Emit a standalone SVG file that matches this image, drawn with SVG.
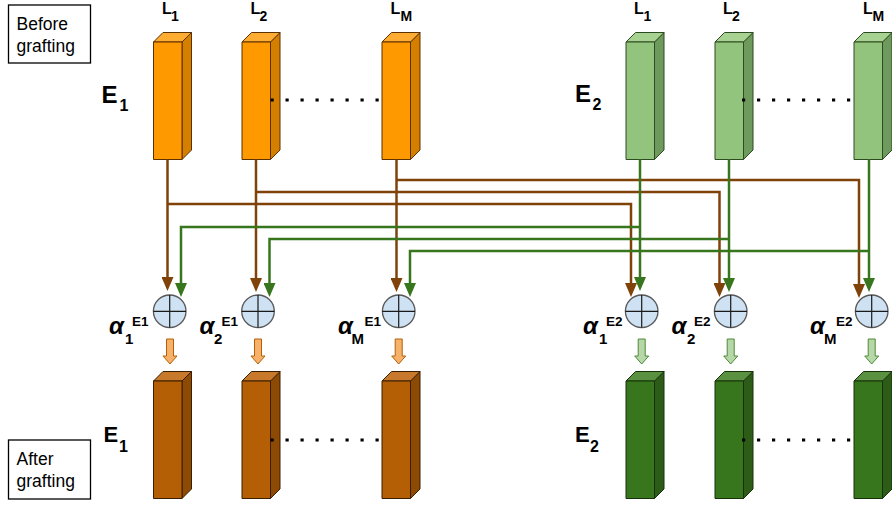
<svg xmlns="http://www.w3.org/2000/svg" width="892" height="505" viewBox="0 0 892 505">
<style>
  text { font-family: "Liberation Sans", Arial, sans-serif; fill: #000; }
  .cap { font-size: 17.5px; }
  .b { font-weight: bold; }
  .ital { font-weight: bold; font-style: italic; }
  .frame { fill: #fff; stroke: #000; stroke-width: 1.3; }
  .bf { fill: var(--f); stroke: var(--k); stroke-width: 1; stroke-linejoin: round; }
  .bt { fill: var(--t); stroke: var(--k); stroke-width: 1; stroke-linejoin: round; }
  .bs { fill: var(--s); stroke: var(--k); stroke-width: 1; stroke-linejoin: round; }
  .orange-in  { --f: #FF9900; --t: #FFAC33; --s: #D47F00; --k: #5C3100; }
  .green-in   { --f: #93C47D; --t: #A8D292; --s: #6F9A5D; --k: #2E4A20; }
  .orange-out { --f: #B45F06; --t: #C8792C; --s: #8C4A05; --k: #3A1F00; }
  .green-out  { --f: #38761D; --t: #5A9140; --s: #2C5C17; --k: #17310B; }
  .wire { fill: none; stroke-width: 2.5; }
  .brown { stroke: #7F4208; }
  .green { stroke: #38761D; }
  .disc { fill: #CFE2F3; stroke: #595959; stroke-width: 1.3; }
  .plus { stroke: #1a1a1a; stroke-width: 1.2; fill: none; }
  .dots { stroke: #000; stroke-width: 3.2; stroke-dasharray: 3.2 11.8; }
  .push-o { fill: #F6B26B; stroke: #B45F06; stroke-width: 1; }
  .push-g { fill: #B6D7A8; stroke: #4E8A35; stroke-width: 1; }
</style>
<defs>
  <marker id="ah-brown" markerUnits="userSpaceOnUse" markerWidth="14" markerHeight="12" refX="10" refY="6" orient="auto">
    <path d="M0,0 L14,6 L0,12 Z" fill="#7F4208"/>
  </marker>
  <marker id="ah-green" markerUnits="userSpaceOnUse" markerWidth="14" markerHeight="12" refX="10" refY="6" orient="auto">
    <path d="M0,0 L14,6 L0,12 Z" fill="#38761D"/>
  </marker>
  <!-- layer block: front face at origin, depth 9.5 up-right -->
  <g id="box">
    <path class="bs" d="M28.5,0 L38,-9.5 V108 L28.5,117.5 Z"/>
    <path class="bt" d="M0,0 L9.5,-9.5 H38 L28.5,0 Z"/>
    <path class="bf" d="M0,0 H28.5 V117.5 H0 Z"/>
  </g>
  <!-- summation node: disc with a plus -->
  <g id="cross">
    <circle class="disc" cx="0" cy="0" r="16.3"/>
    <path class="plus" d="M-16.3,0 H16.3 M0,-16.3 V16.3"/>
  </g>
</defs>

<!-- captions -->
<g id="caption-before">
  <rect class="frame" x="8.5" y="5" width="82" height="58"/>
  <text class="cap" x="16.5" y="30">Before</text>
  <text class="cap" x="16.5" y="52">grafting</text>
</g>
<g id="caption-after">
  <rect class="frame" x="8.5" y="440" width="82" height="59"/>
  <text class="cap" x="16.5" y="465">After</text>
  <text class="cap" x="16.5" y="486.5">grafting</text>
</g>

<!-- model names -->
<g id="name-e1-top"><text class="b" x="101.5" y="103" font-size="24">E</text><text class="b" x="119.5" y="111" font-size="16">1</text></g>
<g id="name-e2-top"><text class="b" x="575" y="102" font-size="24">E</text><text class="b" x="592.5" y="110" font-size="16">2</text></g>
<g id="name-e1-bottom"><text class="b" x="103.5" y="442" font-size="22">E</text><text class="b" x="119" y="452" font-size="16">1</text></g>
<g id="name-e2-bottom"><text class="b" x="575" y="442" font-size="22">E</text><text class="b" x="590" y="452" font-size="16">2</text></g>

<!-- layer labels -->
<g id="layer-labels" class="b">
  <text x="162" y="13.5" font-size="16">L</text><text x="171" y="21" font-size="14">1</text>
  <text x="250.5" y="13.5" font-size="16">L</text><text x="259.5" y="21" font-size="14">2</text>
  <text x="390.5" y="13.5" font-size="16">L</text><text x="400.5" y="21" font-size="14">M</text>
  <text x="634" y="13.5" font-size="16">L</text><text x="643.5" y="21" font-size="14">1</text>
  <text x="723" y="13.5" font-size="16">L</text><text x="732" y="21" font-size="14">2</text>
  <text x="863" y="13.5" font-size="16">L</text><text x="872.5" y="21" font-size="14">M</text>
</g>

<!-- layers before grafting -->
<g id="e1-l1" class="orange-in" transform="translate(153.5,42)"><use href="#box"/></g>
<g id="e1-l2" class="orange-in" transform="translate(242,42)"><use href="#box"/></g>
<g id="e1-lm" class="orange-in" transform="translate(382,42)"><use href="#box"/></g>
<g id="e2-l1" class="green-in" transform="translate(626,42)"><use href="#box"/></g>
<g id="e2-l2" class="green-in" transform="translate(715,42)"><use href="#box"/></g>
<g id="e2-lm" class="green-in" transform="translate(854,42)"><use href="#box"/></g>

<!-- layers after grafting -->
<g id="e1-l1-out" class="orange-out" transform="translate(153.5,381)"><use href="#box"/></g>
<g id="e1-l2-out" class="orange-out" transform="translate(242,381)"><use href="#box"/></g>
<g id="e1-lm-out" class="orange-out" transform="translate(382,381)"><use href="#box"/></g>
<g id="e2-l1-out" class="green-out" transform="translate(626,381)"><use href="#box"/></g>
<g id="e2-l2-out" class="green-out" transform="translate(715,381)"><use href="#box"/></g>
<g id="e2-lm-out" class="green-out" transform="translate(854,381)"><use href="#box"/></g>

<!-- ellipsis between layers -->
<g id="ellipses">
  <line class="dots" x1="270.5" y1="100" x2="380" y2="100"/>
  <line class="dots" x1="742" y1="100" x2="852" y2="100"/>
  <line class="dots" x1="270.5" y1="440" x2="380" y2="440"/>
  <line class="dots" x1="742" y1="440" x2="852" y2="440"/>
</g>

<!-- connectors -->
<g id="connectors">
  <path class="wire brown" d="M167.5,159.5 V287" marker-end="url(#ah-brown)"/>
  <path class="wire brown" d="M256,159.5 V288" marker-end="url(#ah-brown)"/>
  <path class="wire brown" d="M396.5,159.5 V288" marker-end="url(#ah-brown)"/>
  <path class="wire brown" d="M167.5,204 H631 V293" marker-end="url(#ah-brown)"/>
  <path class="wire brown" d="M256,192 H719.5 V293" marker-end="url(#ah-brown)"/>
  <path class="wire brown" d="M396.5,180 H859 V294" marker-end="url(#ah-brown)"/>
  <path class="wire green" d="M640,159.5 V287" marker-end="url(#ah-green)"/>
  <path class="wire green" d="M729,159.5 V288" marker-end="url(#ah-green)"/>
  <path class="wire green" d="M869,159.5 V288" marker-end="url(#ah-green)"/>
  <path class="wire green" d="M640,227 H181 V293" marker-end="url(#ah-green)"/>
  <path class="wire green" d="M729,239 H269.5 V293" marker-end="url(#ah-green)"/>
  <path class="wire green" d="M869,251 H410 V293" marker-end="url(#ah-green)"/>
  <!-- hand-off arrows from sum to grafted layer -->
  <path class="push-o" d="M166.5,339 H173.5 V356 H177 L170,364 L163,356 H166.5 Z"/>
  <path class="push-o" d="M254.5,339 H261.5 V356 H265 L258,364 L251,356 H254.5 Z"/>
  <path class="push-o" d="M395.2,339 H402.2 V356 H405.7 L398.7,364 L391.7,356 H395.2 Z"/>
  <path class="push-g" d="M638.2,339 H645.2 V356 H648.7 L641.7,364 L634.7,356 H638.2 Z"/>
  <path class="push-g" d="M727.2,339 H734.2 V356 H737.7 L730.7,364 L723.7,356 H727.2 Z"/>
  <path class="push-g" d="M868.2,339 H875.2 V356 H878.7 L871.7,364 L864.7,356 H868.2 Z"/>
</g>

<!-- weighted sums -->
<g id="sum-e1-1">
  <use href="#cross" x="169.7" y="311.3"/>
  <text class="ital" x="109" y="334" font-size="24">α</text>
  <text class="b" x="125" y="344" font-size="15">1</text>
  <text class="b" x="132" y="326" font-size="13.5">E1</text>
</g>
<g id="sum-e1-2">
  <use href="#cross" x="258" y="311.3"/>
  <text class="ital" x="199.5" y="334" font-size="24">α</text>
  <text class="b" x="214" y="344" font-size="15">2</text>
  <text class="b" x="221.5" y="326" font-size="13.5">E1</text>
</g>
<g id="sum-e1-m">
  <use href="#cross" x="398.7" y="311.3"/>
  <text class="ital" x="338" y="334" font-size="24">α</text>
  <text class="b" x="351.5" y="344" font-size="15">M</text>
  <text class="b" x="364.5" y="326" font-size="13.5">E1</text>
</g>
<g id="sum-e2-1">
  <use href="#cross" x="641.7" y="311.3"/>
  <text class="ital" x="583" y="334" font-size="24">α</text>
  <text class="b" x="599" y="344" font-size="15">1</text>
  <text class="b" x="606" y="326" font-size="13.5">E2</text>
</g>
<g id="sum-e2-2">
  <use href="#cross" x="730.7" y="311.3"/>
  <text class="ital" x="671.5" y="334" font-size="24">α</text>
  <text class="b" x="687" y="344" font-size="15">2</text>
  <text class="b" x="694" y="326" font-size="13.5">E2</text>
</g>
<g id="sum-e2-m">
  <use href="#cross" x="871.7" y="311.3"/>
  <text class="ital" x="810" y="334" font-size="24">α</text>
  <text class="b" x="824" y="344" font-size="15">M</text>
  <text class="b" x="836" y="326" font-size="13.5">E2</text>
</g>
</svg>
